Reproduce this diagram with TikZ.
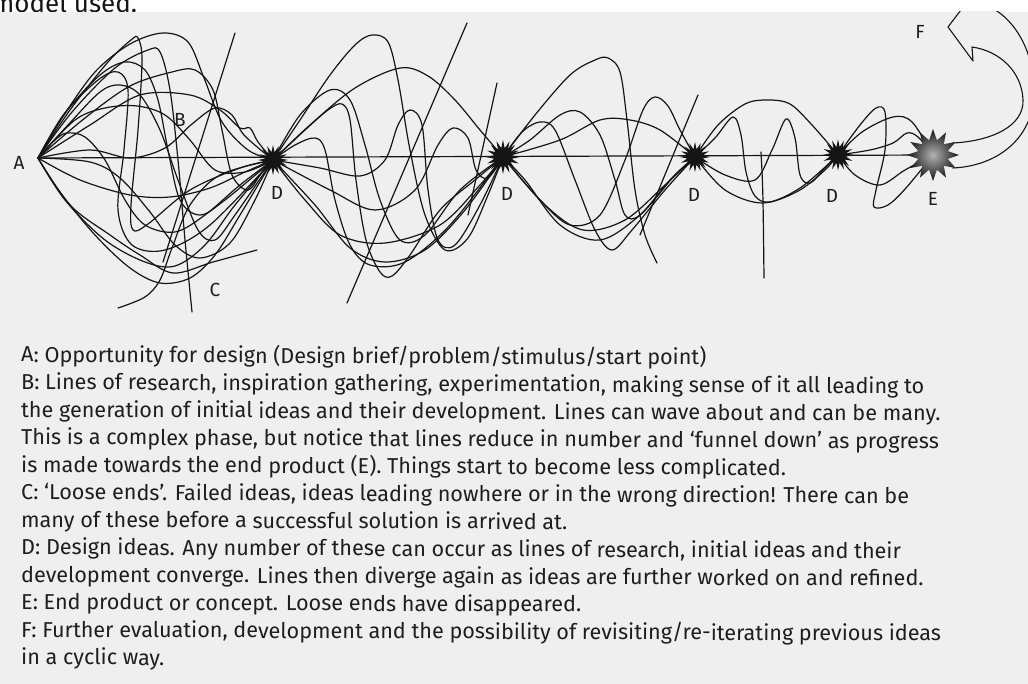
\documentclass[tikz,border=0pt]{standalone}
\usepackage{fontspec}
\setmainfont{Fira Sans}
\usetikzlibrary{shapes.geometric}
\definecolor{paper}{HTML}{EFEFEF}
\definecolor{ink}{HTML}{151515}
\definecolor{printgray}{HTML}{1E1E1E}
\begin{document}
\begin{tikzpicture}[x=1pt,y=-1pt,
  strand/.style={draw=ink, line width=1.2pt, line join=round, line cap=round},
  wavy/.style={strand, smooth, tension=0.55},
  burst/.style={star, star points=16, star point ratio=1.9, fill=ink, draw=none, inner sep=0pt},
  tag/.style={font=\fontsize{19}{19}\selectfont, text=printgray, inner sep=0pt},
  body/.style={font=\fontsize{21.6}{21.6}\selectfont, text=printgray, anchor=base west, inner sep=0pt, rotate=-0.25}]
\useasboundingbox (0,0) rectangle (1028,684);
\fill[white] (0,0) rectangle (1028,12);
\fill[paper] (0,12) rectangle (1028,684);

% heading line cut off at the top edge of the page
\begin{scope}
  \clip (0,0) rectangle (1028,12);
  \node[body, rotate=0.25, font=\fontsize{26}{26}\selectfont, text=ink] (head) at (-8,13) {model used.};
\end{scope}

% start point, design ideas and end product
\coordinate (A) at (38,158);
\coordinate (P1) at (273,160);
\coordinate (P2) at (503,157);
\coordinate (P3) at (695,157);
\coordinate (P4) at (838,155);
\coordinate (PE) at (933,155);

\begin{scope}
\clip (0,12) rectangle (1028,684);

% cyclic return arrow
\coordinate (tailin) at (953,143);
\coordinate (tailout) at (953,168);
\draw[strand, fill=paper, line width=1.1pt] (tailin) .. controls (992,141) and (1024,126) .. (1023,100)
  .. controls (1022,72) and (1000,51) .. (972,47) -- (973,61) -- (948,27) -- (970,-2) -- (978,3)
  .. controls (1012,10) and (1036,52) .. (1034,95) .. controls (1032,140) and (996,166) .. (tailout);

% main axis
\draw[strand] (A) -- (PE);

% ---- stage 1: research lines fanning out from A ----
\draw[wavy] plot coordinates {(A) (62,118) (95,72) (130,44) (163,33) (188,42) (204,78) (222,122) (248,150) (P1)};
\draw[wavy] plot coordinates {(A) (70,110) (108,62) (131,40) (138,38) (142,60) (138,130) (131,205) (133,230) (148,224) (190,190) (240,168) (P1)};
\draw[wavy] plot coordinates {(A) (72,112) (115,68) (148,50) (160,52) (170,90) (178,160) (185,240) (192,312)};
\draw[wavy] plot coordinates {(A) (85,118) (130,86) (172,72) (195,70) (213,90) (222,130) (232,175) (248,190) (262,172) (P1)};
\draw[wavy] plot coordinates {(A) (66,112) (100,75) (125,62) (145,70) (158,100) (168,150) (180,200) (200,215) (225,200) (P1)};
\draw[wavy] plot coordinates {(A) (64,114) (98,80) (118,72) (128,90) (124,150) (118,210) (132,245) (165,250) (210,225) (P1)};
\draw[wavy] plot coordinates {(A) (90,150) (130,158) (165,148) (192,124) (215,108) (232,115) (244,135) (P1)};
\draw[wavy] plot coordinates {(A) (75,120) (105,108) (137,106) (165,115) (190,140) (215,170) (245,172) (P1)};
\draw[wavy] plot coordinates {(A) (55,140) (67,133) (85,137) (105,160) (125,200) (145,225) (175,232) (205,215) (240,185) (P1)};
\draw[wavy] plot coordinates {(A) (90,125) (140,95) (190,95) (220,110) (240,128) (250,128) (258,142) (P1)};
\draw[wavy] plot coordinates {(A) (80,180) (130,195) (170,197) (210,188) (245,172) (P1)};
\draw[wavy] plot coordinates {(A) (60,192) (95,235) (130,268) (160,283) (190,278) (215,255) (240,215) (P1)};
\draw[wavy] plot coordinates {(A) (65,200) (105,240) (145,262) (175,266) (205,245) (235,205) (P1)};
\draw[wavy] plot coordinates {(A) (70,205) (110,235) (140,255) (173,273) (213,262) (257,250)};
\draw[wavy] plot coordinates {(118,308) (145,297) (160,280) (172,248) (190,205) (220,175) (P1)};
\draw[wavy] plot coordinates {(A) (68,125) (100,92) (120,85) (140,95) (160,130) (178,180) (198,230) (215,240) (235,215) (P1)};
\draw[wavy] plot coordinates {(A) (90,162) (120,178) (150,212) (175,245) (200,258) (230,243) (255,200) (P1)};
\draw[strand] (235,33) -- (163,262);

% ---- stage 2 ----
\draw[wavy] plot coordinates {(P1) (300,120) (330,75) (355,45) (372,35) (388,42) (398,80) (410,150) (425,215) (445,250) (468,238) (488,195) (P2)};
\draw[wavy] plot coordinates {(P1) (310,125) (355,88) (400,68) (428,76) (455,100) (480,130) (P2)};
\draw[wavy] plot coordinates {(P1) (305,130) (328,110) (342,104) (350,120) (356,180) (366,240) (380,272) (392,276) (410,255) (440,210) (475,180) (P2)};
\draw[wavy] plot coordinates {(P1) (295,145) (315,138) (325,150) (335,200) (350,245) (370,265) (405,262) (450,225) (P2)};
\draw[wavy] plot coordinates {(P1) (320,168) (360,176) (385,160) (398,125) (410,110) (422,125) (428,190) (438,240) (455,245) (480,205) (P2)};
\draw[wavy] plot coordinates {(P1) (330,190) (375,210) (415,190) (438,145) (453,128) (468,138) (476,170) (488,178) (P2)};
\draw[wavy] plot coordinates {(P1) (315,205) (350,248) (385,262) (425,250) (465,210) (P2)};
\draw[wavy] plot coordinates {(P1) (305,200) (340,235) (385,243) (440,225) (480,185) (P2)};
\draw[wavy] plot coordinates {(P1) (300,115) (330,90) (350,100) (365,145) (380,200) (400,240) (425,235) (460,190) (P2)};
\draw[strand] (467,23) -- (347,303);
\draw[strand] (497,83) -- (468,215);

% ---- stage 3 ----
\draw[wavy] plot coordinates {(P2) (535,115) (570,75) (595,60) (608,58) (620,72) (627,120) (635,190) (645,235) (657,263)};
\draw[wavy] plot coordinates {(P2) (540,200) (570,225) (600,215) (625,160) (643,110) (655,97) (668,106) (680,130) (P3)};
\draw[wavy] plot coordinates {(P2) (522,132) (540,122) (555,130) (575,180) (595,230) (612,250) (632,230) (665,190) (P3)};
\draw[wavy] plot coordinates {(P2) (530,140) (560,115) (580,112) (600,135) (615,180) (625,215) (640,215) (670,180) (P3)};
\draw[wavy] plot coordinates {(P2) (545,205) (583,230) (625,220) (665,185) (P3)};
\draw[wavy] plot coordinates {(P2) (525,180) (560,225) (600,240) (640,215) (675,175) (P3)};
\draw[wavy] plot coordinates {(P2) (560,140) (600,120) (630,120) (660,130) (P3)};
\draw[strand] (698,95) -- (640,235);

% ---- stage 4 ----
\draw[wavy] plot coordinates {(P3) (718,125) (745,104) (767,100) (790,104) (812,125) (P4)};
\draw[wavy] plot coordinates {(P3) (715,138) (733,117) (741,135) (746,172) (755,196) (770,202) (800,190) (825,170) (P4)};
\draw[wavy] plot coordinates {(P3) (725,175) (755,180) (772,150) (786,119) (795,138) (800,175) (810,183) (825,168) (P4)};
\draw[wavy] plot coordinates {(P3) (725,190) (763,203) (800,188) (P4)};
\draw[strand] (761,152) .. controls (763,190) .. (764,278);

% ---- stage 5 ----
\draw[wavy] plot coordinates {(P4) (860,125) (876,108) (885,112) (885,150) (876,190) (874,207) (888,205) (906,188) (PE)};
\draw[wavy] plot coordinates {(P4) (862,132) (893,117) (912,122) (PE)};
\draw[wavy] plot coordinates {(P4) (870,150) (893,143) (907,133) (918,137) (PE)};
\draw[wavy] plot coordinates {(P4) (855,175) (880,185) (905,170) (PE)};

% bursts
\node[burst, minimum size=30pt] (d1) at (P1) {};
\node[burst, minimum size=34pt] (d2) at (P2) {};
\node[burst, minimum size=30pt] (d3) at (P3) {};
\node[burst, minimum size=31pt] (d4) at (P4) {};
\node[star, star points=12, star point ratio=1.7, minimum size=52pt, inner sep=0pt,
      draw=none, inner color=gray!60, outer color=ink] (e) at (PE) {};
\end{scope}

% letters
\node[tag] (la) at (19,163) {A};
\node[tag] (lb) at (180,120) {B};
\node[tag] (lc) at (215,290) {C};
\node[tag] (ld1) at (277,193) {D};
\node[tag] (ld2) at (507,194) {D};
\node[tag] (ld3) at (694,195) {D};
\node[tag] (ld4) at (832,196) {D};
\node[tag] (le) at (933,199) {E};
\node[tag] (lf) at (920,32) {F};

% key
\node[body] (k1) at (21,362) {A: Opportunity for design (Design brief/problem/stimulus/start point)};
\node[body] (k2) at (21,389.5) {B: Lines of research, inspiration gathering, experimentation, making sense of it all leading to};
\node[body] (k3) at (21,417) {the generation of initial ideas and their development. Lines can wave about and can be many.};
\node[body] (k4) at (21,444.5) {This is a complex phase, but notice that lines reduce in number and ‘funnel down’ as progress};
\node[body] (k5) at (21,472) {is made towards the end product (E). Things start to become less complicated.};
\node[body] (k6) at (21,499.5) {C: ‘Loose ends’. Failed ideas, ideas leading nowhere or in the wrong direction! There can be};
\node[body] (k7) at (21,527) {many of these before a successful solution is arrived at.};
\node[body] (k8) at (21,554.5) {D: Design ideas. Any number of these can occur as lines of research, initial ideas and their};
\node[body] (k9) at (21,582) {development converge. Lines then diverge again as ideas are further worked on and refined.};
\node[body] (k10) at (21,609.5) {E: End product or concept. Loose ends have disappeared.};
\node[body] (k11) at (21,637) {F: Further evaluation, development and the possibility of revisiting/re-iterating previous ideas};
\node[body] (k12) at (21,664.5) {in a cyclic way.};
\end{tikzpicture}
\end{document}
